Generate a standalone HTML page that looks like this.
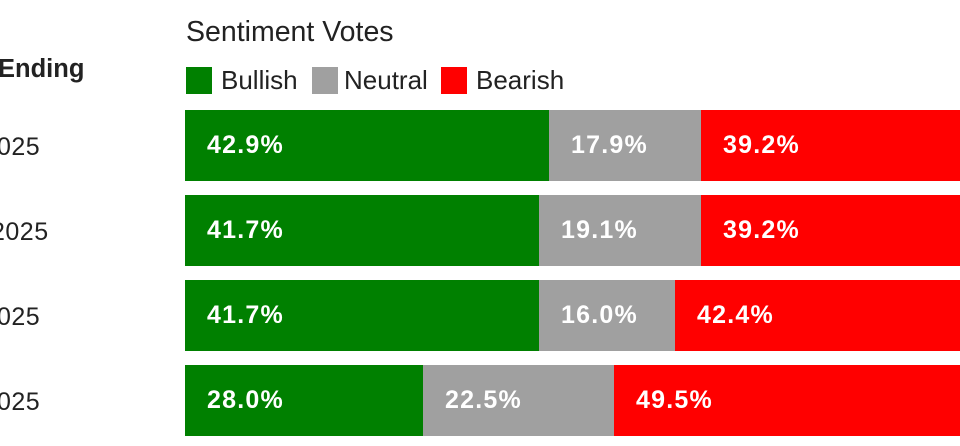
<!DOCTYPE html>
<html><head><meta charset="utf-8"><style>
body{margin:0;width:960px;height:446px;background:#fff;overflow:hidden;position:relative;font-family:"Liberation Sans",sans-serif;color:#222}
.a{position:absolute;white-space:nowrap}
.seg{position:absolute;height:71px;color:#fff;font-weight:bold;font-size:25px;line-height:71px;box-sizing:border-box;padding-left:22px;letter-spacing:1.2px}
.g{background:#008000}.n{background:#a0a0a0}.r{background:#ff0000}
.lab{position:absolute;font-size:25px;left:-3px;letter-spacing:0.5px}
.sq{position:absolute;width:26px;height:27px;top:67px}
</style></head><body>
<div class="a" style="left:186px;top:16px;font-size:28.5px">Sentiment Votes</div>
<div class="a" style="left:-2px;top:55px;font-size:25.5px;font-weight:bold">Ending</div>
<div class="sq g" style="left:186px"></div><div class="a" style="left:221px;top:65px;font-size:26px">Bullish</div>
<div class="sq n" style="left:312px"></div><div class="a" style="left:344px;top:65px;font-size:26px">Neutral</div>
<div class="sq r" style="left:441px"></div><div class="a" style="left:476px;top:65px;font-size:26px">Bearish</div>

<div class="lab" style="top:133px">025</div>
<div class="seg g" style="left:185px;top:110px;width:364px">42.9%</div>
<div class="seg n" style="left:549px;top:110px;width:152px">17.9%</div>
<div class="seg r" style="left:701px;top:110px;width:332px">39.2%</div>

<div class="lab" style="top:218px;left:-9px">2025</div>
<div class="seg g" style="left:185px;top:195px;width:354px">41.7%</div>
<div class="seg n" style="left:539px;top:195px;width:162px">19.1%</div>
<div class="seg r" style="left:701px;top:195px;width:332px">39.2%</div>

<div class="lab" style="top:303px">025</div>
<div class="seg g" style="left:185px;top:280px;width:354px">41.7%</div>
<div class="seg n" style="left:539px;top:280px;width:136px">16.0%</div>
<div class="seg r" style="left:675px;top:280px;width:360px">42.4%</div>

<div class="lab" style="top:388px">025</div>
<div class="seg g" style="left:185px;top:365px;width:238px">28.0%</div>
<div class="seg n" style="left:423px;top:365px;width:191px">22.5%</div>
<div class="seg r" style="left:614px;top:365px;width:420px">49.5%</div>
</body></html>
